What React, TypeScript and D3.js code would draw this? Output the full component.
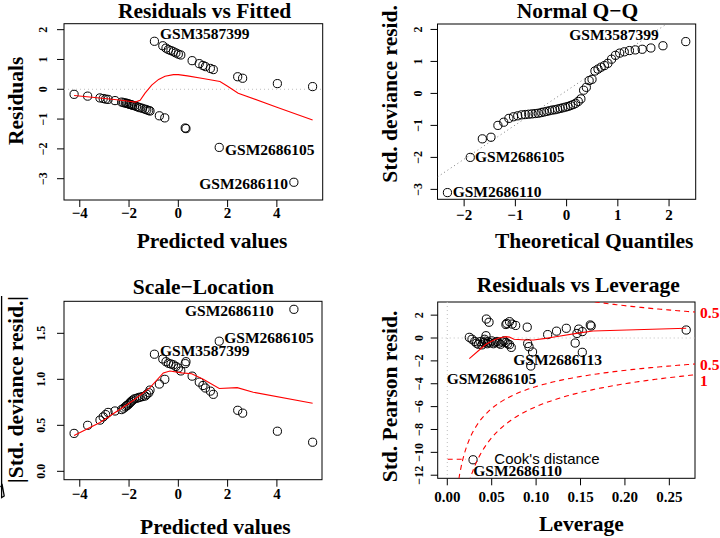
import React from "react";
import * as d3 from "d3";

// ---------- data ----------
const fittedVals = [
  -4.23, -3.68, -3.18, -3.05, -2.95, -2.85, -2.57, -2.3, -2.22, -2.15, -2.1, -2.05, -2.0, -1.95, -1.9, -1.85, -1.78,
  -1.7, -1.62, -1.55, -1.45, -1.35, -1.28, -1.2, -1.15, -0.77, -0.55, 0.28, 0.31, 1.66, 4.69,
  -0.97, -0.63, -0.5, -0.4, -0.3, -0.2, -0.1, 0.0, 0.1, 0.56, 0.85, 1.0, 1.1, 1.3, 1.42, 2.41, 2.61, 4.02, 5.45,
];
const devResid = [
  -0.17, -0.23, -0.29, -0.31, -0.33, -0.34, -0.38, -0.43, -0.45, -0.46, -0.47, -0.48, -0.5, -0.51, -0.52, -0.54, -0.55,
  -0.58, -0.6, -0.62, -0.64, -0.67, -0.69, -0.71, -0.73, -0.89, -0.96, -1.3, -1.32, -1.95, -3.12,
  1.61, 1.46, 1.38, 1.33, 1.3, 1.26, 1.22, 1.18, 1.15, 0.96, 0.86, 0.8, 0.76, 0.7, 0.66, 0.42, 0.37, 0.19, 0.09,
];
const stdDevResid = [
  -0.17, -0.25, -0.31, -0.35, -0.38, -0.41, -0.43, -0.45, -0.47, -0.49, -0.51, -0.52, -0.54, -0.56, -0.58, -0.6, -0.62,
  -0.63, -0.64, -0.65, -0.66, -0.67, -0.7, -0.73, -0.78, -0.9, -1.0, -1.37, -1.42, -2.0, -3.1,
  1.62, 1.49, 1.42, 1.38, 1.36, 1.34, 1.3, 1.26, 1.19, 1.07, 0.94, 0.87, 0.82, 0.76, 0.7, 0.44, 0.4, 0.19, 0.1,
];
const theoQuantiles = [
  -2.326, -1.881, -1.645, -1.476, -1.341, -1.227, -1.126, -1.036, -0.954, -0.878, -0.806, -0.739, -0.674, -0.613,
  -0.553, -0.496, -0.44, -0.385, -0.332, -0.279, -0.228, -0.176, -0.126, -0.075, -0.025, 0.025, 0.075, 0.126, 0.176,
  0.228, 0.279, 0.332, 0.385, 0.44, 0.496, 0.553, 0.613, 0.674, 0.739, 0.806, 0.878, 0.954, 1.036, 1.126, 1.227,
  1.341, 1.476, 1.645, 1.881, 2.326,
];
const leverageVals = [
  0.0248, 0.0436, 0.044, 0.047, 0.066, 0.067, 0.07, 0.073, 0.077, 0.09, 0.113, 0.123, 0.134, 0.146, 0.148, 0.152,
  0.161, 0.162, 0.269,
  0.029, 0.094, 0.096, 0.152, 0.144, 0.092, 0.0905, 0.072,
  0.0278, 0.031, 0.033, 0.035, 0.037, 0.039, 0.041, 0.042, 0.043, 0.045, 0.046, 0.048, 0.05, 0.052, 0.054, 0.056,
  0.058, 0.06, 0.062, 0.064, 0.066, 0.068, 0.07,
];
const stdPearsonVals = [
  0.06, 0.2, 1.66, 1.38, 1.18, 1.28, 1.43, 1.22, 1.1, 0.95, 0.3, 0.6, 0.85, 0.4, 0.78, 0.56, 1.14, 1.05, 0.7,
  -10.65, -2.45, -1.22, -1.25, -0.44, -0.76, -0.48, -0.82,
  -0.11, -0.3, -0.45, -0.55, -0.32, -0.6, -0.4, -0.11, -0.28, -0.5, -0.35, -0.42, -0.25, -0.5, -0.38, -0.3, -0.45,
  -0.55, -0.35, -0.25, -0.4, -0.5, -0.58,
];
// smoother curves (as drawn)
const smooth1X = [-4.23, -3.5, -2.5, -2.0, -1.75, -1.55, -1.35, -1.08, -0.8, -0.54, -0.2, 0.0, 0.37, 1.0, 1.69, 2.0, 2.43, 4.0, 5.45];
const smooth1Y = [-0.21, -0.27, -0.35, -0.4, -0.43, -0.37, -0.13, 0.14, 0.33, 0.44, 0.49, 0.49, 0.45, 0.36, 0.26, 0.1, -0.13, -0.6, -1.03];
const smooth3X = [-4.23, -3.18, -1.83, -1.15, -0.61, -0.34, 0.14, 0.54, 1.01, 1.66, 2.39, 3.04, 5.45];
const smooth3Y = [0.39, 0.53, 0.77, 0.91, 1.07, 1.09, 1.07, 1.06, 1.0, 0.9, 0.91, 0.86, 0.74];
const smooth4X = [0.0248, 0.036, 0.0436, 0.052, 0.058, 0.066, 0.07, 0.075, 0.0886, 0.097, 0.111, 0.122, 0.149, 0.164, 0.269];
const smooth4Y = [-1.8, -1.05, -0.55, -0.2, 0.0, 0.12, 0.08, -0.11, -0.17, -0.18, -0.03, 0.11, 0.45, 0.62, 0.85];
const cookLevels = [0.5, 1];
const nParams = 4;

const ticks1X = [-4, -2, 0, 2, 4];
const ticks1Y = [-3, -2, -1, 0, 1, 2];
const ticks2X = [-2, -1, 0, 1, 2];
const ticks2Y = [-3, -2, -1, 0, 1, 2];
const ticks3Y = [0, 0.5, 1, 1.5];
const ticks4X = [0, 0.05, 0.1, 0.15, 0.2, 0.25];
const ticks4Y = [2, 0, -2, -4, -6, -8, -10, -12];

// ---------- styles ----------
const SERIF = "'Liberation Serif', 'Times New Roman', serif";
const SANS = "'Liberation Sans', Arial, sans-serif";
const TITLE_SIZE = 21.5;
const XTICK_SIZE = 15;
const YTICK_SIZE = 12;
const ID_SIZE = 15.5;

const fmt = (v: number, digits = 0) => {
  const s = Math.abs(v).toFixed(digits);
  return v < 0 ? "\u2212" + s : s;
};

type Box = { l: number; r: number; t: number; b: number };

function Axes(props: {
  id: string;
  box: Box;
  x: d3.ScaleLinear<number, number>;
  y: d3.ScaleLinear<number, number>;
  xTicks: number[];
  yTicks: number[];
  xFmt: (v: number) => string;
  yFmt: (v: number) => string;
  xTickBase: number;
  yTickBase: number;
}) {
  const { id, box, x, y, xTicks, yTicks, xFmt, yFmt, xTickBase, yTickBase } = props;
  return (
    <g>
      <clipPath id={id}>
        <rect x={box.l} y={box.t} width={box.r - box.l} height={box.b - box.t} />
      </clipPath>
      <rect x={box.l} y={box.t} width={box.r - box.l} height={box.b - box.t} fill="none" stroke="#000" strokeWidth={1} />
      {xTicks.map((v) => (
        <g key={"xt" + v}>
          <line x1={x(v)} x2={x(v)} y1={box.b} y2={box.b + 7} stroke="#000" />
          <text x={x(v)} y={xTickBase} textAnchor="middle" fontFamily={SERIF} fontWeight="bold" fontSize={XTICK_SIZE}>
            {xFmt(v)}
          </text>
        </g>
      ))}
      {yTicks.map((v) => (
        <g key={"yt" + v}>
          <line x1={box.l - 7} x2={box.l} y1={y(v)} y2={y(v)} stroke="#000" />
          <text
            transform={`translate(${yTickBase},${y(v)}) rotate(-90)`}
            textAnchor="middle"
            fontFamily={SERIF}
            fontWeight="bold"
            fontSize={YTICK_SIZE}
          >
            {yFmt(v)}
          </text>
        </g>
      ))}
    </g>
  );
}

const Title = ({ x, y, children }: { x: number; y: number; children: React.ReactNode }) => (
  <text x={x} y={y} fontFamily={SERIF} fontWeight="bold" fontSize={TITLE_SIZE}>
    {children}
  </text>
);
const YLabel = ({ x, y, children }: { x: number; y: number; children: React.ReactNode }) => (
  <text transform={`translate(${x},${y}) rotate(-90)`} fontFamily={SERIF} fontWeight="bold" fontSize={TITLE_SIZE}>
    {children}
  </text>
);
const IdLabel = ({ x, y, children, fill = "#000" }: { x: number; y: number; children: React.ReactNode; fill?: string }) => (
  <text x={x} y={y} fontFamily={SERIF} fontWeight="bold" fontSize={ID_SIZE} fill={fill}>
    {children}
  </text>
);

const Points = ({ xs, ys, x, y }: { xs: number[]; ys: number[]; x: any; y: any }) => (
  <g>
    {xs.map((v, i) => (
      <circle key={i} cx={x(v)} cy={y(ys[i])} r={4.1} fill="none" stroke="#000" strokeWidth={1} />
    ))}
  </g>
);

function linePath(xs: number[], ys: number[], x: any, y: any) {
  const pts: [number, number][] = xs.map((v, i) => [x(v), y(ys[i])]);
  return d3.line()(pts) || "";
}

export default function App() {
  // Panel 1: Residuals vs Fitted
  const b1: Box = { l: 64, r: 322.7, t: 23.7, b: 200 };
  const x1 = d3.scaleLinear().domain([-4.64, 5.86]).range([b1.l, b1.r]);
  const y1 = d3.scaleLinear().domain([-3.715, 2.2]).range([b1.b, b1.t]);

  // Panel 2: Normal Q-Q
  const b2: Box = { l: 437.5, r: 695.7, t: 24, b: 199.3 };
  const x2 = d3.scaleLinear().domain([-2.52, 2.52]).range([b2.l, b2.r]);
  const y2 = d3.scaleLinear().domain([-3.31, 2.17]).range([b2.b, b2.t]);
  const sortedStd = [...stdDevResid].sort((a, b) => a - b);
  const q25 = d3.quantile(sortedStd, 0.25) as number;
  const q75 = d3.quantile(sortedStd, 0.75) as number;
  const zq = 0.6744898;
  const qqSlope = (q75 - q25) / (2 * zq);
  const qqInt = q75 - qqSlope * zq;

  // Panel 3: Scale-Location
  const b3: Box = { l: 64, r: 322, t: 301.3, b: 479.7 };
  const x3 = d3.scaleLinear().domain([-4.64, 5.83]).range([b3.l, b3.r]);
  const y3 = d3.scaleLinear().domain([-0.091, 1.848]).range([b3.b, b3.t]);
  const sqrtAbs = stdDevResid.map((v) => Math.sqrt(Math.abs(v)));

  // Panel 4: Residuals vs Leverage
  const b4: Box = { l: 437.7, r: 695, t: 302, b: 478.3 };
  const x4 = d3.scaleLinear().domain([-0.0108, 0.2789]).range([b4.l, b4.r]);
  const y4 = d3.scaleLinear().domain([-12.27, 3.15]).range([b4.b, b4.t]);
  const hMax = x4.domain()[1];
  const hMin = (d3.max(leverageVals) as number) / 100;
  const hh = d3.range(101).map((i) => hMin + (i * (hMax - hMin)) / 100);
  const ymult = Math.sqrt((nParams * (1 - hMax)) / hMax);

  // Cook's distance labels on the right margin (nudged apart so they do not collide)
  const cookLabels = cookLevels
    .flatMap((lev) => [Math.sqrt(lev) * ymult, -Math.sqrt(lev) * ymult].map((v) => ({ lev, v, py: 0 })))
    .filter((d) => d.v <= y4.domain()[1] && d.v >= y4.domain()[0])
    .map((d) => ({ ...d, py: y4(d.v) }))
    .sort((a, b) => a.py - b.py);
  for (let i = 1; i < cookLabels.length; i++) {
    if (cookLabels[i].py - cookLabels[i - 1].py < 16) cookLabels[i].py = cookLabels[i - 1].py + 16;
  }

  return (
    <svg
      width={720}
      height={538}
      style={{ position: "absolute", left: 0, top: 0, background: "#fff" }}
      xmlns="http://www.w3.org/2000/svg"
    >
      <rect x={0} y={0} width={720} height={538} fill="#fff" />

      {/* ---------------- Panel 1 ---------------- */}
      <Axes id="c1" box={b1} x={x1} y={y1} xTicks={ticks1X} yTicks={ticks1Y} xFmt={(v) => fmt(v)} yFmt={(v) => fmt(v)} xTickBase={218} yTickBase={47} />
      <g clipPath="url(#c1)">
        <line x1={b1.l} x2={b1.r} y1={y1(0)} y2={y1(0)} stroke="#bebebe" strokeDasharray="1,3" />
        <Points xs={fittedVals} ys={devResid} x={x1} y={y1} />
        <path d={linePath(smooth1X, smooth1Y, x1, y1)} fill="none" stroke="#ff0000" strokeWidth={1.1} />
      </g>
      <Title x={118} y={18}>Residuals vs Fitted</Title>
      <text x={136.7} y={248} fontFamily={SERIF} fontWeight="bold" fontSize={TITLE_SIZE}>Predicted values</text>
      <YLabel x={23.3} y={145}>Residuals</YLabel>
      <IdLabel x={160} y={39.3}>GSM3587399</IdLabel>
      <IdLabel x={225} y={155}>GSM2686105</IdLabel>
      <IdLabel x={199.3} y={189.3}>GSM2686110</IdLabel>

      {/* ---------------- Panel 2 ---------------- */}
      <Axes id="c2" box={b2} x={x2} y={y2} xTicks={ticks2X} yTicks={ticks2Y} xFmt={(v) => fmt(v)} yFmt={(v) => fmt(v)} xTickBase={220} yTickBase={421.7} />
      <g clipPath="url(#c2)">
        <line
          x1={x2(-2.52)}
          x2={x2(2.52)}
          y1={y2(qqInt + qqSlope * -2.52)}
          y2={y2(qqInt + qqSlope * 2.52)}
          stroke="#7f7f7f"
          strokeDasharray="1,3"
        />
        <Points xs={theoQuantiles} ys={sortedStd} x={x2} y={y2} />
      </g>
      <Title x={516.7} y={18}>Normal Q{"\u2212"}Q</Title>
      <text x={495} y={248} fontFamily={SERIF} fontWeight="bold" fontSize={TITLE_SIZE}>Theoretical Quantiles</text>
      <YLabel x={396.5} y={182.7}>Std. deviance resid.</YLabel>
      <IdLabel x={569.3} y={40}>GSM3587399</IdLabel>
      <IdLabel x={475} y={161.7}>GSM2686105</IdLabel>
      <IdLabel x={452.7} y={196.7}>GSM2686110</IdLabel>

      {/* ---------------- Panel 3 ---------------- */}
      <Axes id="c3" box={b3} x={x3} y={y3} xTicks={ticks1X} yTicks={ticks3Y} xFmt={(v) => fmt(v)} yFmt={(v) => fmt(v, 1)} xTickBase={499} yTickBase={45} />
      <g clipPath="url(#c3)">
        <Points xs={fittedVals} ys={sqrtAbs} x={x3} y={y3} />
        <path d={linePath(smooth3X, smooth3Y, x3, y3)} fill="none" stroke="#ff0000" strokeWidth={1.1} />
      </g>
      <Title x={132.7} y={293.5}>Scale{"\u2212"}Location</Title>
      <text x={140} y={534} fontFamily={SERIF} fontWeight="bold" fontSize={TITLE_SIZE}>Predicted values</text>
      <YLabel x={22.5} y={483}>|Std. deviance resid.|</YLabel>
      <path d="M0.5,487 L2.2,485 L4.2,496 L1.6,497.5 L1.6,296" fill="none" stroke="#000" strokeWidth={1.3} />
      <IdLabel x={185} y={315.7}>GSM2686110</IdLabel>
      <IdLabel x={224.3} y={343}>GSM2686105</IdLabel>
      <IdLabel x={160} y={356.3}>GSM3587399</IdLabel>

      {/* ---------------- Panel 4 ---------------- */}
      <Axes
        id="c4"
        box={b4}
        x={x4}
        y={y4}
        xTicks={ticks4X}
        yTicks={ticks4Y}
        xFmt={(v) => fmt(v, 2)}
        yFmt={(v) => fmt(v)}
        xTickBase={502}
        yTickBase={423}
      />
      <g clipPath="url(#c4)">
        <line x1={x4(0)} x2={x4(0)} y1={b4.t} y2={b4.b} stroke="#bebebe" strokeDasharray="1,3" />
        <line x1={b4.l} x2={b4.r} y1={y4(0)} y2={y4(0)} stroke="#bebebe" strokeDasharray="1,3" />
        <Points xs={leverageVals} ys={stdPearsonVals} x={x4} y={y4} />
        <path d={linePath(smooth4X, smooth4Y, x4, y4)} fill="none" stroke="#ff0000" strokeWidth={1.1} />
        {cookLevels.map((lev) => {
          const up = hh.map((h) => Math.sqrt((lev * nParams * (1 - h)) / h));
          const dn = up.map((v) => -v);
          return (
            <g key={"ck" + lev}>
              <path d={linePath(hh, up, x4, y4)} fill="none" stroke="#ff0000" strokeDasharray="5,4" strokeWidth={1.1} />
              <path d={linePath(hh, dn, x4, y4)} fill="none" stroke="#ff0000" strokeDasharray="5,4" strokeWidth={1.1} />
            </g>
          );
        })}
      </g>
      {cookLabels.map((d) => (
        <text
          key={"cl" + d.v}
          x={700}
          y={d.py + 5.5}
          fontFamily={SERIF}
          fontWeight="bold"
          fontSize={ID_SIZE}
          fill="#ff0000"
        >
          {String(d.lev)}
        </text>
      ))}
      <line x1={447.7} x2={466} y1={459.3} y2={459.3} stroke="#ff0000" strokeDasharray="5,4" strokeWidth={1.1} />
      <text x={494.3} y={464} fontFamily={SANS} fontSize={15} fill="#000">Cook's distance</text>
      <Title x={476.7} y={292}>Residuals vs Leverage</Title>
      <text x={539} y={531} fontFamily={SERIF} fontWeight="bold" fontSize={TITLE_SIZE}>Leverage</text>
      <YLabel x={396.7} y={482.3}>Std. Pearson resid.</YLabel>
      <IdLabel x={513.3} y={365}>GSM2686113</IdLabel>
      <IdLabel x={446.7} y={383.7}>GSM2686105</IdLabel>
      <IdLabel x={473.3} y={476}>GSM2686110</IdLabel>
    </svg>
  );
}
